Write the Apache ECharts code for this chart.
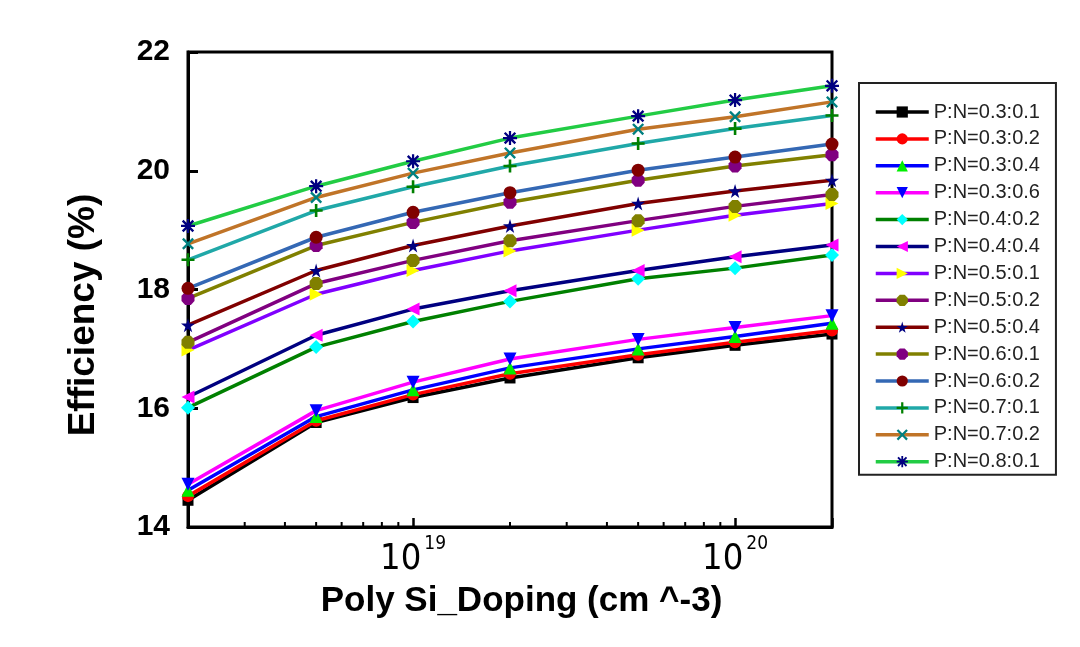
<!DOCTYPE html>
<html>
<head>
<meta charset="utf-8">
<script src="https://cdn.jsdelivr.net/npm/echarts@6/dist/echarts.min.js"></script>
<style>
html,body{margin:0;padding:0;background:#fff;}
#chart{width:1080px;height:647px;}
</style>
</head>
<body>
<div id="chart"></div>
<script>
// ---- data ----
const doping = [2e18, 5e18, 1e19, 2e19, 5e19, 1e20, 2e20];
const seriesNames = [
  'P:N=0.3:0.1','P:N=0.3:0.2','P:N=0.3:0.4','P:N=0.3:0.6','P:N=0.4:0.2',
  'P:N=0.4:0.4','P:N=0.5:0.1','P:N=0.5:0.2','P:N=0.5:0.4','P:N=0.6:0.1',
  'P:N=0.6:0.2','P:N=0.7:0.1','P:N=0.7:0.2','P:N=0.8:0.1'
];
const pn_03_01 = [14.45, 15.76, 16.18, 16.51, 16.85, 17.06, 17.25];
const pn_03_02 = [14.52, 15.79, 16.23, 16.58, 16.90, 17.11, 17.31];
const pn_03_04 = [14.62, 15.86, 16.31, 16.68, 17.00, 17.21, 17.43];
const pn_03_06 = [14.72, 15.96, 16.44, 16.83, 17.16, 17.36, 17.56];
const pn_04_02 = [16.01, 17.03, 17.46, 17.80, 18.18, 18.36, 18.58];
const pn_04_04 = [16.19, 17.23, 17.67, 17.98, 18.32, 18.55, 18.75];
const pn_05_01 = [16.98, 17.92, 18.32, 18.65, 19.00, 19.25, 19.45];
const pn_05_02 = [17.11, 18.10, 18.49, 18.82, 19.16, 19.40, 19.60];
const pn_05_04 = [17.40, 18.32, 18.74, 19.07, 19.45, 19.66, 19.84];
const pn_06_01 = [17.85, 18.74, 19.13, 19.47, 19.84, 20.08, 20.27];
const pn_06_02 = [18.02, 18.88, 19.30, 19.63, 20.01, 20.23, 20.45];
const pn_07_01 = [18.50, 19.33, 19.73, 20.08, 20.46, 20.71, 20.93];
const pn_07_02 = [18.77, 19.55, 19.96, 20.30, 20.70, 20.91, 21.16];
const pn_08_01 = [19.07, 19.74, 20.16, 20.55, 20.92, 21.19, 21.43];
const allValues = [pn_03_01, pn_03_02, pn_03_04, pn_03_06, pn_04_02, pn_04_04, pn_05_01,
  pn_05_02, pn_05_04, pn_06_01, pn_06_02, pn_07_01, pn_07_02, pn_08_01];
const yTicks = [14, 16, 18, 20, 22];
const xMajorTicks = [1e19, 1e20];
const xMinorTicks = [3e18, 4e18, 5e18, 6e18, 7e18, 8e18, 9e18,
  2e19, 3e19, 4e19, 5e19, 6e19, 7e19, 8e19, 9e19];

// ---- styles ----
const lineColors = ['#000000','#ff0000','#0000ff','#ff00ff','#008000','#000080','#8000ff',
  '#800080','#800000','#808000','#3468b4','#20a8a8','#c07428','#22cc44'];
const markerColors = ['#000000','#ff0000','#00ee00','#0000ff','#00ffff','#ff00ff','#ffff00',
  '#808000','#000080','#800080','#800000','#008000','#008080','#000080'];
const P = {
  down: 'path://M0,0L100,0L50,100Z',
  left: 'path://M100,0L100,100L0,50Z',
  right: 'path://M0,0L100,50L0,100Z',
  star: 'path://M50,0L61,35L98,35L68,57L79,91L50,70L21,91L32,57L2,35L39,35Z',
  plus: 'path://M40,0H60V40H100V60H60V100H40V60H0V40H40Z',
  cross: 'path://M0,14L14,0L50,36L86,0L100,14L64,50L100,86L86,100L50,64L14,100L0,86L36,50Z',
  aster: 'path://M42,0H58V42H100V58H58V100H42V58H0V42H42Z M6,18L18,6L50,38L82,6L94,18L62,50L94,82L82,94L50,62L18,94L6,82L38,50Z',
  hex: 'path://M28,0H72L100,30V70L72,100H28L0,70V30Z'
};
const symbols = ['rect','circle','triangle',P.down,'diamond',P.left,P.right,
  P.hex,P.star,P.hex,'circle',P.plus,P.cross,P.aster];
const symbolSizes = [11,12,13,13,14,13,13,13,14,13,13,13,12,14];

const font = 'Liberation Sans, Arial, sans-serif';
const narrow = 'Liberation Sans Narrow, DejaVu Sans Condensed, Arial, sans-serif';

const series = seriesNames.map((name, i) => ({
  name: name,
  type: 'line',
  data: doping.map((x, j) => [x, allValues[i][j]]),
  symbol: symbols[i],
  symbolSize: symbolSizes[i],
  showSymbol: true,
  lineStyle: { color: lineColors[i], width: 3.5 },
  itemStyle: { color: markerColors[i], borderWidth: 0 },
  emphasis: { disabled: true },
  z: 3 + i
}));

// minor ticks on x axis (log-spaced), drawn through the axis scale
series.push({
  type: 'custom',
  silent: true,
  clip: false,
  z: 20,
  data: xMinorTicks.map(v => [v, yTicks[0]]),
  renderItem: function (params, api) {
    const p = api.coord([api.value(0), api.value(1)]);
    return {
      type: 'line',
      shape: { x1: p[0], y1: p[1], x2: p[0], y2: p[1] - 5 },
      style: { stroke: '#000', lineWidth: 2 }
    };
  }
});

const chart = echarts.init(document.getElementById('chart'), null, { renderer: 'canvas' });
chart.setOption({
  animation: false,
  backgroundColor: '#ffffff',
  grid: {
    left: 188, right: 248, top: 52, bottom: 120,
    show: true, borderColor: '#000', borderWidth: 3, backgroundColor: 'transparent'
  },
  legend: {
    orient: 'vertical',
    left: 859, top: 83,
    padding: [19, 16, 3, 15],
    itemWidth: 53, itemHeight: 14, itemGap: 6.9,
    borderColor: '#222', borderWidth: 2,
    backgroundColor: '#fff',
    data: seriesNames,
    lineStyle: { width: 3.5 },
    textStyle: { fontFamily: font, fontSize: 20, color: '#222' },
    selectedMode: false
  },
  xAxis: {
    type: 'log', logBase: 10,
    min: doping[0], max: doping[doping.length - 1],
    splitNumber: 2,
    name: 'Poly Si_Doping (cm ^-3)',
    nameLocation: 'middle', nameGap: 57,
    nameTextStyle: { fontFamily: font, fontSize: 35, fontWeight: 'bold', color: '#000', padding: [0, 0, 0, 23] },
    axisLine: { show: true, lineStyle: { color: '#000', width: 3 } },
    axisTick: { show: true, inside: true, length: 9, lineStyle: { color: '#000', width: 2.5 } },
    minorTick: { show: false },
    splitLine: { show: false },
    axisLabel: {
      margin: 8,
      showMinLabel: true, showMaxLabel: true,
      formatter: function (v) {
        const e = Math.log10(v);
        const r = Math.round(e);
        if (Math.abs(e - r) > 1e-6) return '';
        if (!xMajorTicks.some(t => Math.abs(Math.log10(t) - r) < 1e-6)) return '';
        return '{b|10}{s|' + r + '}';
      },
      rich: {
        b: { fontFamily: narrow, fontSize: 36, color: '#000' },
        s: { fontFamily: narrow, fontSize: 19, color: '#000', padding: [0, 0, 31, 3] }
      }
    }
  },
  yAxis: {
    type: 'value',
    min: yTicks[0], max: yTicks[yTicks.length - 1], interval: 2,
    name: 'Efficiency (%)',
    nameLocation: 'middle', nameGap: 86,
    nameTextStyle: { fontFamily: font, fontSize: 37, fontWeight: 'bold', color: '#000', padding: [0, 51, 0, 0] },
    axisLine: { show: true, lineStyle: { color: '#000', width: 3 } },
    axisTick: { show: true, inside: true, length: 10, lineStyle: { color: '#000', width: 3 } },
    splitLine: { show: false },
    axisLabel: { margin: 18, fontFamily: font, fontSize: 30, fontWeight: 'bold', color: '#000' }
  },
  series: series
});
</script>
</body>
</html>
